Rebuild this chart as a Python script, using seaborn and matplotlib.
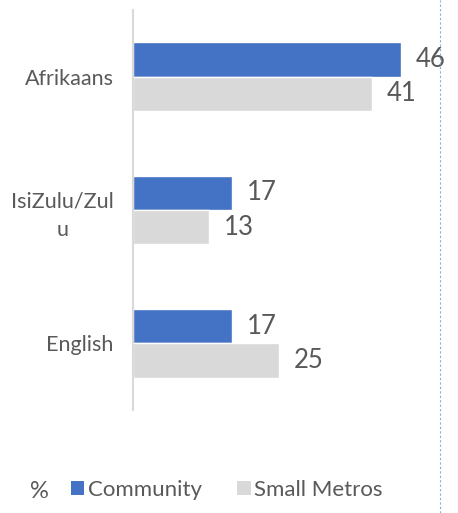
import matplotlib
matplotlib.use("Agg")
import matplotlib.pyplot as plt
import seaborn as sns
import pandas as pd
from matplotlib.patches import Patch
from matplotlib.lines import Line2D

categories = ["Afrikaans", "IsiZulu/Zul\nu", "English"]
series_names = ["Community", "Small Metros"]
community = [46, 17, 17]
small_metros = [41, 13, 25]
colors = ["#4472C4", "#D9D9D9"]

rows = []
for c, v1, v2 in zip(categories, community, small_metros):
    rows.append({"cat": c, "series": series_names[0], "val": v1})
    rows.append({"cat": c, "series": series_names[1], "val": v2})
df = pd.DataFrame(rows)

sns.set_style("white")
plt.rcParams["font.family"] = ["Lato", "DejaVu Sans"]
text_color = "#595959"

fig = plt.figure(figsize=(4.58, 5.13), dpi=100)
ax = fig.add_axes([133/458, 1-410/513, (424-133)/458, 400/513])
sns.barplot(data=df, y="cat", x="val", hue="series", order=categories,
            hue_order=series_names, palette=colors, orient="h", width=0.515,
            ax=ax, legend=False, saturation=1)

ax.set_xlim(0, 50)
ax.set_xlabel("")
ax.set_ylabel("")
ax.set_xticks([])
for s in ["top", "right", "bottom"]:
    ax.spines[s].set_visible(False)
ax.spines["left"].set_color("#D9D9D9")
ax.spines["left"].set_linewidth(1.5)
ax.tick_params(axis="y", length=0, pad=14, labelsize=15.5, labelcolor=text_color)
for lab in ax.get_yticklabels():
    lab.set_multialignment("center")
    lab.set_linespacing(1.5)

for cont in ax.containers:
    ax.bar_label(cont, fmt="%d", padding=11, fontsize=18.5, color=text_color)

fig.text(30/458, 1-491/513, "%", fontsize=17, color=text_color, va="center", ha="left")
handles = [Patch(facecolor=colors[0], edgecolor="none"),
           Patch(facecolor=colors[1], edgecolor="none")]
fig.legend(handles, series_names, loc="center left", bbox_to_anchor=(71/458, 1-490/513),
           ncol=2, frameon=False, fontsize=16, labelcolor=text_color,
           handlelength=0.6, handleheight=0.6, handletextpad=0.15, columnspacing=1.6,
           borderaxespad=0, borderpad=0)

fig.add_artist(Line2D([440/458, 440/458], [0, 1], transform=fig.transFigure,
                      color="#8EA9DB", linewidth=0.8, linestyle=(0, (2, 2))))

fig.savefig("out.png", dpi=100)
